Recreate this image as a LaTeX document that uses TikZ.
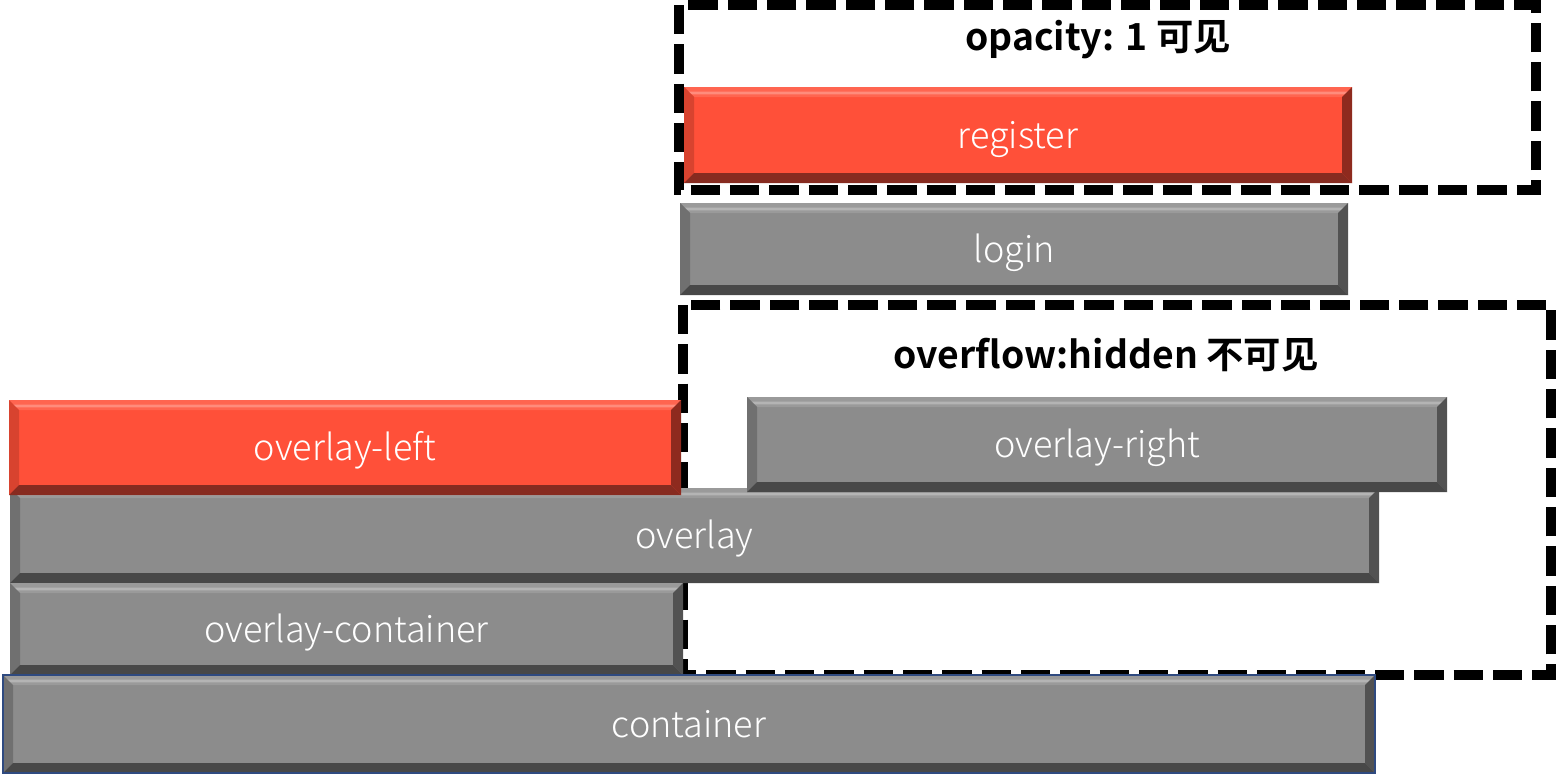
\documentclass[tikz,border=0pt]{standalone}
\usepackage{fontspec}
\usetikzlibrary{calc}
\newfontfamily\titlefont{Noto Sans CJK SC Bold}
\newfontfamily\labfont{Noto Sans CJK SC Light}
\definecolor{gmain}{HTML}{8C8C8C}
\definecolor{gtop}{HTML}{9A9A9A}
\definecolor{ghl}{HTML}{B4B4B4}
\definecolor{gleft}{HTML}{707070}
\definecolor{gright}{HTML}{525252}
\definecolor{gbot}{HTML}{484848}
\definecolor{rmain}{HTML}{FF5039}
\definecolor{rtop}{HTML}{FF6550}
\definecolor{rhl}{HTML}{FF8C7C}
\definecolor{rleft}{HTML}{D8432F}
\definecolor{rright}{HTML}{8E2A1E}
\definecolor{rbot}{HTML}{872B20}
\definecolor{cborder}{HTML}{2F4A80}
\newcommand\bw{7.5pt}
\newcommand\mybox[7]{%
  \pgfmathsetmacro\cx{(#2+#4)/2}\pgfmathsetmacro\cy{(#3+#5)/2}%
  \pgfmathsetmacro\ww{(#4-#2)*0.75}\pgfmathsetmacro\hh{(#5-#3)*0.75}%
  \node[#6, minimum width=\ww pt, minimum height=\hh pt] (#1) at (\cx,\cy) {#7};}
\tikzset{
  bevel/.style n args={6}{fill=#1, inner sep=0pt, text=white,
    font=\labfont\fontsize{27}{30}\selectfont, text height=20pt, text depth=0pt,
    path picture={
      \coordinate (pNW) at (path picture bounding box.north west);
      \coordinate (pNE) at (path picture bounding box.north east);
      \coordinate (pSW) at (path picture bounding box.south west);
      \coordinate (pSE) at (path picture bounding box.south east);
      \fill[#2] (pNW) -- (pNE) -- ($(pNE)+(-\bw,-\bw)$) -- ($(pNW)+(\bw,-\bw)$) -- cycle;
      \fill[#3] ($(pNW)+(3pt,-3.5pt)$) -- ($(pNE)+(-3pt,-3.5pt)$) -- ($(pNE)+(-5pt,-5.5pt)$) -- ($(pNW)+(5pt,-5.5pt)$) -- cycle;
      \fill[#4] (pNW) -- (pSW) -- ($(pSW)+(\bw,\bw)$) -- ($(pNW)+(\bw,-\bw)$) -- cycle;
      \fill[#5] (pNE) -- (pSE) -- ($(pSE)+(-\bw,\bw)$) -- ($(pNE)+(-\bw,-\bw)$) -- cycle;
      \fill[#6] (pSW) -- (pSE) -- ($(pSE)+(-\bw,\bw)$) -- ($(pSW)+(\bw,\bw)$) -- cycle;
    }},
  graybox/.style={bevel={gmain}{gtop}{ghl}{gleft}{gright}{gbot}},
  redbox/.style={bevel={rmain}{rtop}{rhl}{rleft}{rright}{rbot}},
  frame/.style={draw=black, line width=7.5pt, dash pattern=on 22pt off 7.5pt},
  title/.style={font=\titlefont\fontsize{28}{30}\selectfont, text=black, inner sep=0pt}
}
\begin{document}
\begin{tikzpicture}[x=0.75pt,y=-0.75pt]
\useasboundingbox[fill=white] (0,0) rectangle (1556,775);
% dashed frames
\draw[frame] (679,5) rectangle (1536,190);
\draw[frame] (683,305) rectangle (1551,675);
\node[title] (t1) at (1098,40) {opacity: 1 可见};
\node[title] (t2) at (1106,355) {overflow:hidden 不可见};
% boxes
\mybox{register}{684}{87}{1352}{183}{redbox}{register}
\mybox{login}{680}{203}{1348}{295}{graybox}{login}
\mybox{overlay}{10}{488}{1379}{583}{graybox}{overlay}
\mybox{oleft}{9}{400}{681}{495}{redbox}{overlay-left}
\mybox{oright}{747}{397}{1447}{492}{graybox}{overlay-right}
\mybox{ocont}{10}{583}{683}{675}{graybox}{overlay-container}
\mybox{cont}{3}{675}{1375}{773}{graybox,draw=cborder,line width=1.2pt}{container}
\end{tikzpicture}
\end{document}
